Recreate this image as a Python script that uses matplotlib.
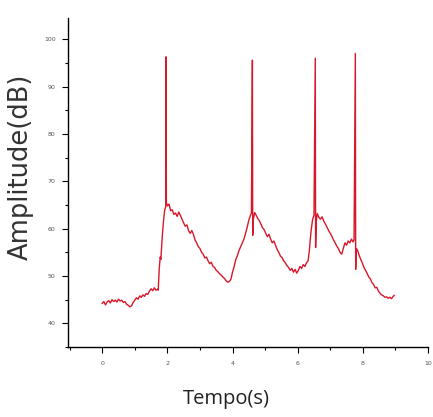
import matplotlib
matplotlib.use("Agg")
import matplotlib.pyplot as plt
from matplotlib.ticker import MultipleLocator

tempo = [0.00, 0.05, 0.10, 0.15, 0.20, 0.25, 0.30, 0.35, 0.40, 0.45, 0.50, 0.55, 0.60, 0.65, 0.70,
         0.75, 0.80, 0.85, 0.90, 0.95, 1.00, 1.05, 1.10, 1.15, 1.20, 1.25, 1.30, 1.35, 1.40, 1.45,
         1.50, 1.55, 1.60, 1.65, 1.70, 1.72, 1.75, 1.78, 1.80, 1.84, 1.88, 1.92, 1.95, 1.96, 1.97,
         2.00, 2.05, 2.10, 2.15, 2.20, 2.25, 2.30, 2.35, 2.40, 2.45, 2.50, 2.55, 2.60, 2.65, 2.70,
         2.75, 2.80, 2.85, 2.90, 2.95, 3.00, 3.05, 3.10, 3.15, 3.20, 3.25, 3.30, 3.35, 3.40, 3.45,
         3.50, 3.55, 3.60, 3.65, 3.70, 3.75, 3.80, 3.85, 3.90, 3.95, 4.00, 4.05, 4.10, 4.15, 4.20,
         4.25, 4.30, 4.35, 4.40, 4.45, 4.50, 4.55, 4.58, 4.61, 4.62, 4.64, 4.68, 4.72, 4.77, 4.82,
         4.87, 4.92, 4.97, 5.02, 5.07, 5.12, 5.17, 5.22, 5.27, 5.32, 5.37, 5.42, 5.47, 5.52, 5.57,
         5.62, 5.67, 5.72, 5.77, 5.82, 5.87, 5.92, 5.97, 6.02, 6.07, 6.12, 6.17, 6.22, 6.27, 6.32,
         6.36, 6.39, 6.42, 6.46, 6.50, 6.54, 6.55, 6.57, 6.60, 6.65, 6.70, 6.75, 6.80, 6.85, 6.90,
         6.95, 7.00, 7.05, 7.10, 7.15, 7.20, 7.25, 7.30, 7.35, 7.40, 7.45, 7.50, 7.55, 7.60, 7.65,
         7.70, 7.73, 7.77, 7.78, 7.80, 7.84, 7.88, 7.93, 7.98, 8.03, 8.08, 8.13, 8.18, 8.23, 8.28,
         8.33, 8.38, 8.43, 8.48, 8.53, 8.58, 8.63, 8.68, 8.73, 8.78, 8.83, 8.88, 8.93, 8.96]

amplitude = [44.2, 44.6, 43.9, 44.5, 44.8, 44.3, 45.0, 44.6, 44.9, 44.5, 45.1, 44.7, 44.9, 44.4, 44.6,
             44.0, 43.8, 43.5, 43.7, 44.4, 44.9, 45.4, 45.1, 45.8, 45.5, 46.0, 45.7, 46.3, 46.1, 46.8,
             47.3, 46.9, 47.5, 47.0, 47.2, 47.0, 51.5, 54.0, 53.5, 58.0, 61.5, 64.0, 64.6, 96.3, 65.5,
             64.8, 65.2, 63.8, 64.0, 63.0, 63.3, 62.6, 63.5, 62.8, 62.0, 61.2, 60.5, 60.8, 59.6, 59.0,
             59.6, 58.8, 57.6, 57.0, 56.2, 55.8, 55.0, 54.6, 53.8, 54.0, 53.2, 52.6, 52.9, 52.0, 51.8,
             51.2, 50.9, 50.5, 50.2, 49.8, 49.5, 49.0, 48.7, 48.8, 49.3, 50.8, 52.0, 53.5, 54.3, 55.4,
             56.2, 57.0, 57.8, 59.0, 60.3, 61.8, 62.8, 63.3, 95.6, 58.6, 62.0, 63.4, 62.9, 62.2, 61.7,
             61.0, 60.2, 59.8, 59.0, 58.3, 58.8, 57.8, 57.0, 57.4, 56.5, 55.6, 55.0, 54.2, 53.9, 53.2,
             52.8, 52.2, 51.8, 51.2, 51.6, 50.8, 51.4, 50.6, 51.2, 52.0, 51.6, 52.4, 52.0, 52.8, 53.2,
             55.5, 58.0, 60.0, 62.0, 62.8, 96.0, 56.0, 61.5, 63.2, 62.4, 62.0, 62.5, 61.6, 61.0, 60.3,
             59.6, 59.0, 58.4, 57.6, 57.0, 56.3, 55.8, 55.0, 54.6, 55.8, 57.0, 56.5, 57.4, 57.0, 57.8,
             57.2, 57.6, 97.0, 51.4, 55.8, 55.4, 54.5, 53.6, 52.8, 51.9, 51.2, 50.6, 49.8, 49.4, 48.6,
             48.2, 47.5, 47.6, 46.8, 46.3, 46.0, 45.8, 45.5, 45.6, 45.3, 45.5, 45.2, 45.7, 45.9]

x_ticks = [0, 2, 4, 6, 8, 10]
y_ticks = [40, 50, 60, 70, 80, 90, 100]

fig = plt.figure(figsize=(4.33, 4.17), dpi=100)
ax = fig.add_axes([68/433, 70/417, 360/433, 329/417])
ax.plot(tempo, amplitude, color='#d8182a', lw=1.0)

ax.set_xlim(-1.05, 10)
ax.set_ylim(35, 104.5)
ax.set_xticks(x_ticks)
ax.set_yticks(y_ticks)
ax.xaxis.set_minor_locator(MultipleLocator(1))
ax.yaxis.set_minor_locator(MultipleLocator(5))
for s in ['top', 'right']:
    ax.spines[s].set_visible(False)
for s in ['left', 'bottom']:
    ax.spines[s].set_linewidth(1.0)
ax.tick_params(which='major', direction='out', length=4, width=0.8, labelsize=4.5,
               labelcolor='#555555')
ax.tick_params(axis='y', which='major', pad=5)
ax.tick_params(axis='x', which='major', pad=6)
ax.tick_params(which='minor', direction='out', length=2.5, width=0.8)

ax.set_ylabel('Amplitude(dB)', fontsize=18.5, family='DejaVu Sans', color='#333333')
ax.yaxis.set_label_coords(-0.095, 0.547)
ax.set_xlabel('Tempo(s)', fontsize=14.5, family='Open Sans', color='#222222')
ax.xaxis.set_label_coords(0.44, -0.128)

fig.savefig('out.png', dpi=100)
